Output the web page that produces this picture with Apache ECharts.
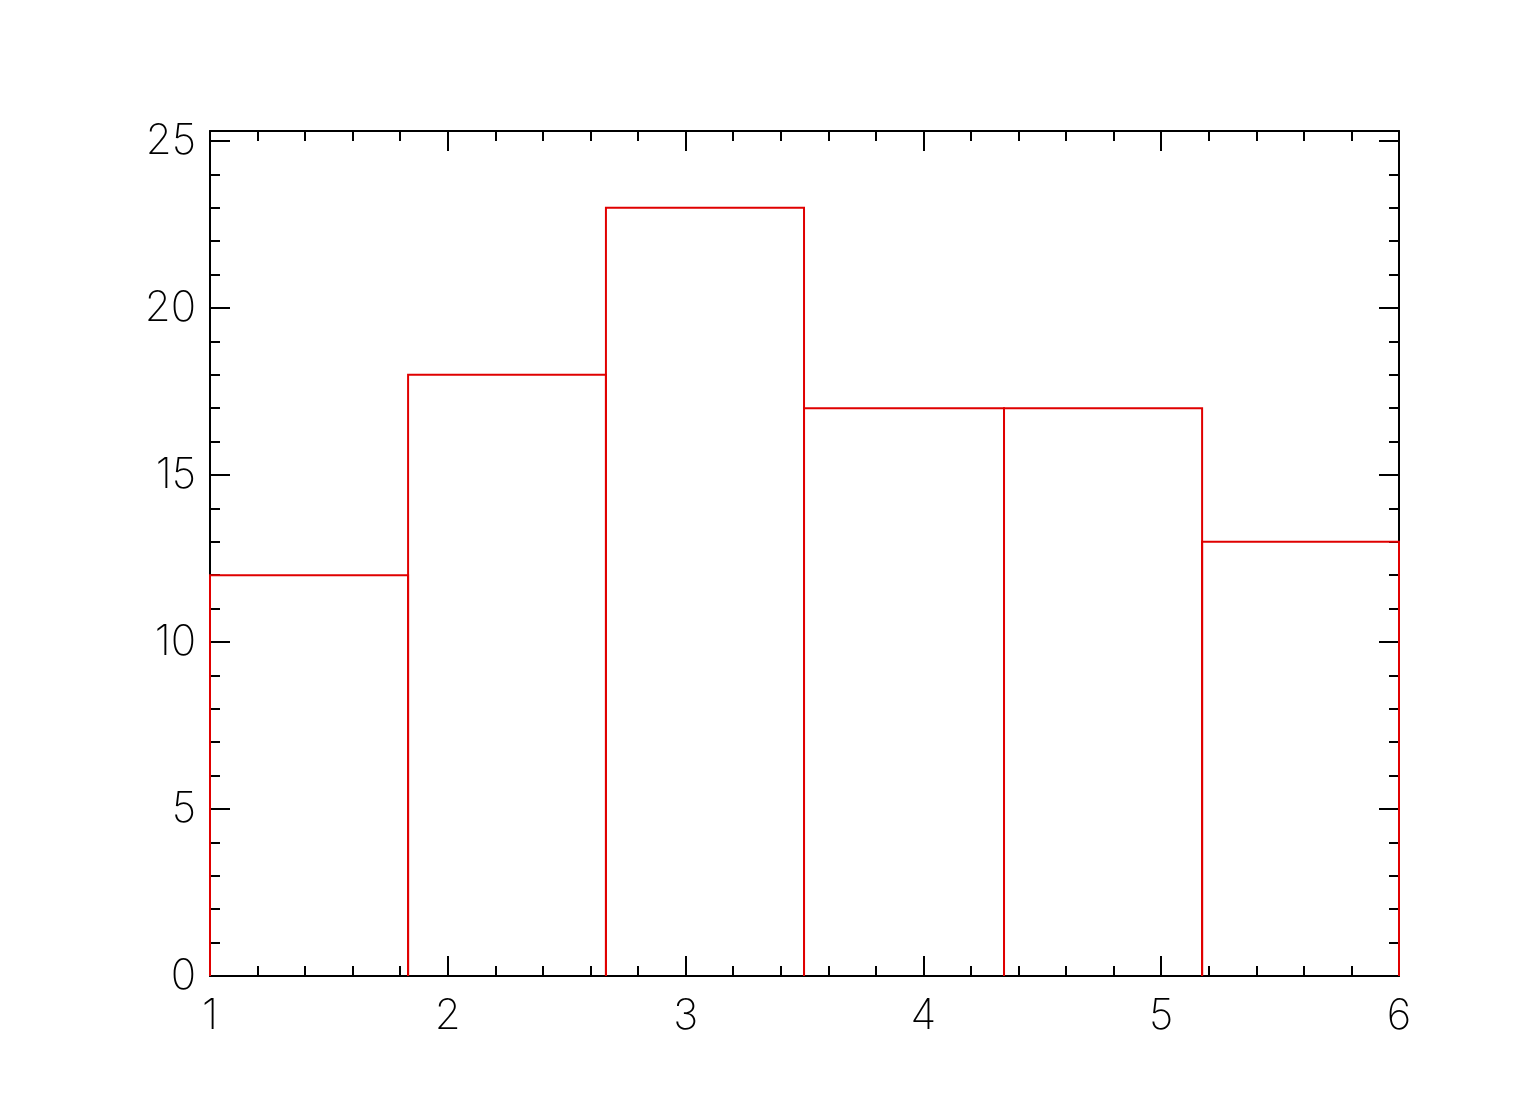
<!DOCTYPE html>
<html>
<head>
<meta charset="utf-8">
<script src="https://cdn.jsdelivr.net/npm/echarts@6/dist/echarts.min.js"></script>
<style>html,body{margin:0;padding:0;background:#fff}#c{width:1531px;height:1108px}</style>
</head>
<body>
<div id="c"></div>
<script>
// Histogram bin edges and counts
const binEdges = [1, 1.833, 2.665, 3.498, 4.339, 5.172, 6];
const counts = [12, 18, 23, 17, 17, 13];
const xTickLabels = ['1', '2', '3', '4', '5', '6'];
const yTickLabels = ['0', '5', '10', '15', '20', '25'];

const X_MIN = 1, X_MAX = 6, Y_MIN = 0, Y_MAX = 25.3;
const FONT = 'Inter';
const labelStyle = { color: '#000', fontFamily: FONT, fontWeight: 200, fontSize: 42 };
const lineStyle = { color: '#000', width: 2 };

const data = counts.map((c, i) => [binEdges[i], binEdges[i + 1], c]);

function xAxisDef(pos, showLabel) {
  return {
    type: 'value', position: pos, min: X_MIN, max: X_MAX, interval: 1,
    axisLine: { show: true, onZero: false, lineStyle },
    axisTick: { show: true, inside: true, length: 20, lineStyle },
    minorTick: { show: true, splitNumber: 5, length: 10, lineStyle },
    splitLine: { show: false }, minorSplitLine: { show: false },
    axisLabel: Object.assign({ show: showLabel, margin: 19,
      formatter: v => { const i = Math.round(v - X_MIN); return Math.abs(v - Math.round(v)) < 1e-6 ? (xTickLabels[i] || '') : ''; } }, labelStyle)
  };
}
function yAxisDef(pos, interval, len, showLabel, showLine) {
  return {
    type: 'value', position: pos, min: Y_MIN, max: Y_MAX, interval,
    axisLine: { show: showLine, onZero: false, lineStyle },
    axisTick: { show: true, inside: true, length: len, lineStyle },
    splitLine: { show: false },
    axisLabel: Object.assign({ show: showLabel, margin: 14,
      formatter: v => { const r = Math.round(v); return (Math.abs(v - r) < 1e-6 && r % 5 === 0) ? (yTickLabels[r / 5] || '') : ''; } }, labelStyle)
  };
}

const chart = echarts.init(document.getElementById('c'), null, { renderer: 'canvas' });
chart.setOption({
  backgroundColor: '#fff',
  animation: false,
  grid: { left: 210, right: 132, top: 131, bottom: 132, containLabel: false },
  xAxis: [xAxisDef('bottom', true), xAxisDef('top', false)],
  yAxis: [
    yAxisDef('left', 5, 20, true, true),
    yAxisDef('left', 1, 10, false, false),
    yAxisDef('right', 5, 20, false, true),
    yAxisDef('right', 1, 10, false, false)
  ],
  series: [{
    type: 'custom',
    xAxisIndex: 0, yAxisIndex: 0,
    data,
    z: 1,
    renderItem: (params, api) => {
      const x0 = api.value(0), x1 = api.value(1), v = api.value(2);
      const p0 = api.coord([x0, 0]), p1 = api.coord([x0, v]);
      const p2 = api.coord([x1, v]), p3 = api.coord([x1, 0]);
      return {
        type: 'polyline',
        shape: { points: [p0, p1, p2, p3] },
        style: { stroke: '#e00000', lineWidth: 2, fill: null }
      };
    }
  }]
});
</script>
</body>
</html>
